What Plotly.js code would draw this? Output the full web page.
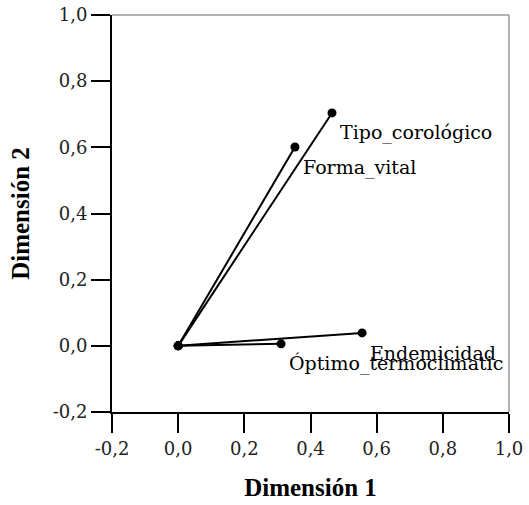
<!DOCTYPE html>
<html>
<head>
<meta charset="utf-8">
<script src="https://cdn.plot.ly/plotly-3.0.1.min.js"></script>
<style>html,body{margin:0;padding:0;background:#fff;}#chart{width:529px;height:505px;}</style>
</head>
<body>
<div id="chart"></div>
<script>
const variables = ["Tipo_corológico", "Forma_vital", "Endemicidad", "Óptimo_termoclimatic"];
const dim1 = [0.465, 0.353, 0.556, 0.311];
const dim2 = [0.704, 0.601, 0.039, 0.006];
const tickVals = [-0.2, 0.0, 0.2, 0.4, 0.6, 0.8, 1.0];
const tickText = ["-0,2", "0,0", "0,2", "0,4", "0,6", "0,8", "1,0"];

const serif = "DejaVu Serif";
const serifBold = "Liberation Serif";

const traces = variables.map((v, i) => ({
  type: "scatter",
  mode: "lines+markers",
  x: [0, dim1[i]],
  y: [0, dim2[i]],
  name: v,
  line: {color: "#000", width: 2},
  marker: {color: "#000", size: 9},
  hoverinfo: "skip",
  showlegend: false
}));

const annotations = variables.map((v, i) => ({
  x: dim1[i], y: dim2[i], xref: "x", yref: "y",
  text: v, showarrow: false,
  xanchor: "left", yanchor: "middle",
  xshift: 6, yshift: -20,
  font: {family: serif, size: 19, color: "#000"}
}));

const axisCommon = {
  range: [-0.2, 1.0],
  tickvals: tickVals,
  ticktext: tickText,
  ticks: "outside",
  ticklen: 19,
  tickwidth: 2,
  tickcolor: "#000",
  showline: true,
  linecolor: "#000",
  linewidth: 2,
  showgrid: false,
  zeroline: false,
  tickfont: {family: serif, size: 18, color: "#222"}
};

const layout = {
  width: 529, height: 505,
  margin: {l: 112, r: 20, t: 15, b: 93},
  paper_bgcolor: "#fff", plot_bgcolor: "#fff",
  showlegend: false,
  xaxis: Object.assign({}, axisCommon, {
    title: {text: "<b>Dimensión 1</b>", font: {family: serifBold, size: 25, color: "#000"}, standoff: 21}
  }),
  yaxis: Object.assign({}, axisCommon, {
    title: {text: "<b>Dimensión 2</b>", font: {family: serifBold, size: 25, color: "#000"}, standoff: 16}
  }),
  annotations: annotations,
  shapes: [
    {type: "line", xref: "paper", yref: "paper", x0: 0, x1: 1, y0: 1, y1: 1, line: {color: "#999", width: 1.5}},
    {type: "line", xref: "paper", yref: "paper", x0: 1, x1: 1, y0: 0, y1: 1, line: {color: "#999", width: 1.5}}
  ]
};

Plotly.newPlot("chart", traces, layout, {displayModeBar: false, staticPlot: true});
</script>
</body>
</html>
